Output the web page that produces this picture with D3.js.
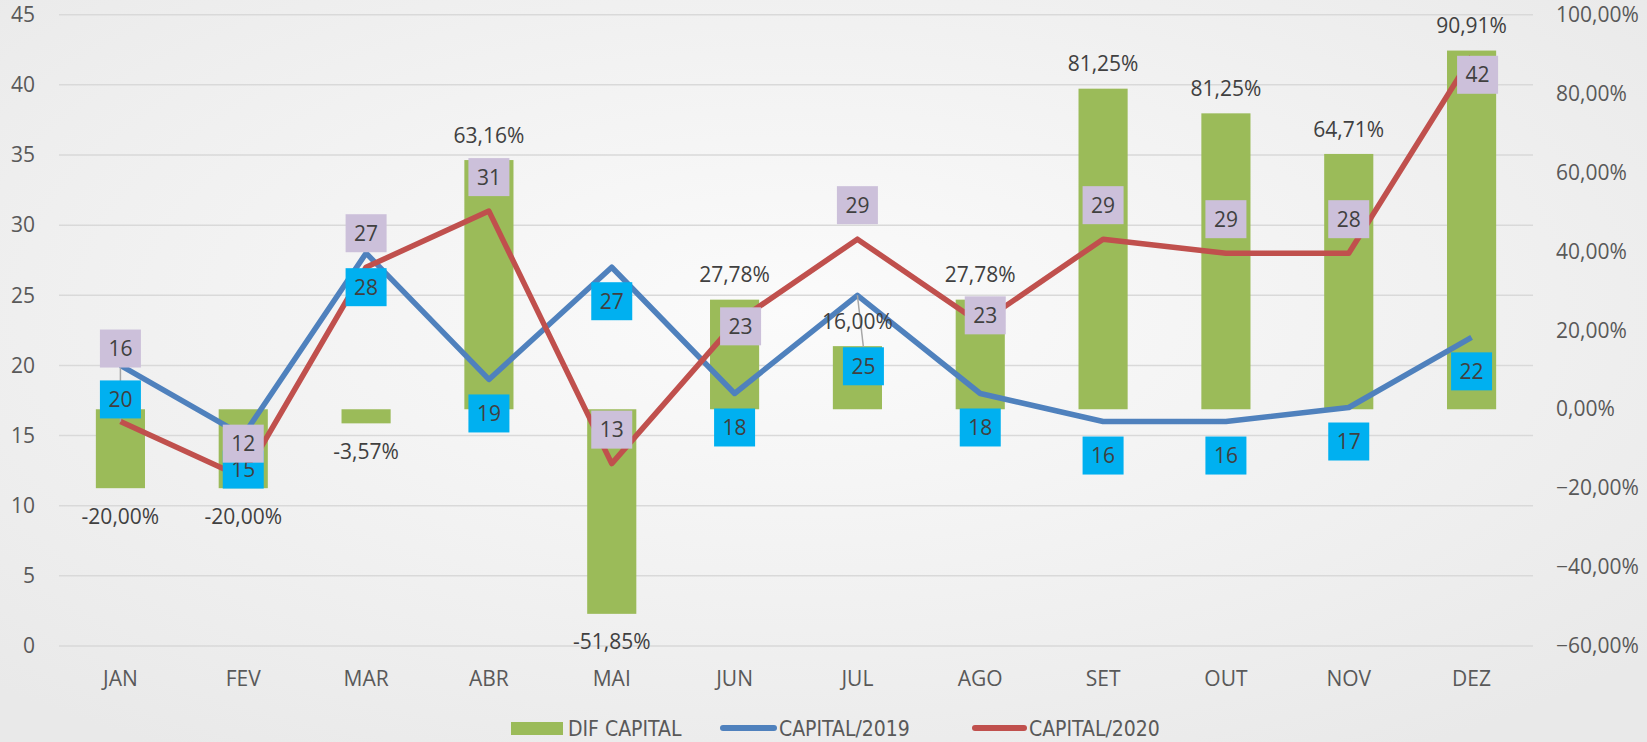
<!DOCTYPE html>
<html>
<head>
<meta charset="utf-8">
<script src="https://cdn.jsdelivr.net/npm/d3@7"></script>
<style>
  body { margin: 0; background: #ededed; }
  text { font-family: "Open Sans", sans-serif; }
</style>
</head>
<body>
<svg id="chart" width="1647" height="742"></svg>
<script>
// data
var months = ['JAN','FEV','MAR','ABR','MAI','JUN','JUL','AGO','SET','OUT','NOV','DEZ'];
var capital2019 = [20,15,28,19,27,18,25,18,16,16,17,22];
var capital2020 = [16,12,27,31,13,23,29,23,29,28,28,42];
var labels2019 = ['20','15','28','19','27','18','25','18','16','16','17','22'];
var labels2020 = ['16','12','27','31','13','23','29','23','29','29','28','42'];
var difCapital = [-20,-20,-3.57,63.16,-51.85,27.78,16,27.78,81.25,75,64.71,90.91];
var difLabels = ['-20,00%','-20,00%','-3,57%','63,16%','-51,85%','27,78%','16,00%','27,78%','81,25%','81,25%','64,71%','90,91%'];
var leftTicks = [0,5,10,15,20,25,30,35,40,45];
var rightTicks = [-60,-40,-20,0,20,40,60,80,100];

var svg = d3.select('#chart'),
    width = +svg.attr('width'),
    height = +svg.attr('height');

var plot = {left: 59, right: 1533, top: 14.7, bottom: 646};

// label nudges (px) for the hand-placed data labels
var nudge2020 = {JAN: [0, -39], JUN: [6, 37], AGO: [5, 26], DEZ: [6, 52]};
var nudge2019 = {JUL: [6, 37]};
var leaders2020 = ['JAN'], leaders2019 = ['JUL'];

// background
var defs = svg.append('defs');
var grad = defs.append('radialGradient').attr('id', 'bg')
    .attr('cx', '48%').attr('cy', '42%').attr('r', '70%');
grad.append('stop').attr('offset', '0%').attr('stop-color', '#fbfbfb');
grad.append('stop').attr('offset', '100%').attr('stop-color', '#e9e9e9');
svg.append('rect').attr('width', width).attr('height', height).attr('fill', 'url(#bg)');

var x = d3.scaleBand().domain(months).range([plot.left, plot.right]).paddingInner(0).paddingOuter(0);
var yL = d3.scaleLinear().domain([0, 45]).range([plot.bottom, plot.top]);
var yR = d3.scaleLinear().domain([-60, 100]).range([plot.bottom, plot.top]);
var cx = function(m) { return x(m) + x.bandwidth() / 2; };

// gridlines
svg.append('g').selectAll('line').data(leftTicks).enter().append('line')
    .attr('x1', plot.left).attr('x2', plot.right)
    .attr('y1', d => yL(d)).attr('y2', d => yL(d))
    .attr('stroke', '#d9d9d9').attr('stroke-width', 1.5);

// axes
var axisLeft = svg.append('g').attr('transform', 'translate(' + (plot.left - 24) + ',0)')
    .call(d3.axisLeft(yL).tickValues(leftTicks).tickSize(0).tickPadding(0));
var axisRight = svg.append('g').attr('transform', 'translate(' + (plot.right + 23) + ',0)')
    .call(d3.axisRight(yR).tickValues(rightTicks).tickSize(0).tickPadding(0)
      .tickFormat(d => d3.format('.2f')(d).replace('.', ',') + '%'));
var axisBottom = svg.append('g').attr('transform', 'translate(0,' + (plot.bottom + 33) + ')')
    .call(d3.axisBottom(x).tickSize(0).tickPadding(0));
[axisLeft, axisRight, axisBottom].forEach(function(a) {
  a.select('.domain').remove();
  a.selectAll('text').attr('fill', '#595959').style('font-size', '21px')
    .style('font-family', '"Open Sans", sans-serif');
});
axisBottom.selectAll('text').attr('dy', '0.35em');

// bars (secondary axis)
var barW = x.bandwidth() * 0.4;
svg.append('g').selectAll('rect').data(difCapital).enter().append('rect')
    .attr('x', (d, i) => cx(months[i]) - barW / 2)
    .attr('width', barW)
    .attr('y', d => yR(Math.max(0, d)))
    .attr('height', d => Math.abs(yR(d) - yR(0)))
    .attr('fill', '#9bbb59');

// lines
var line = d3.line().x((d, i) => cx(months[i])).y(d => yL(d));
svg.append('path').datum(capital2019).attr('d', line)
    .attr('fill', 'none').attr('stroke', '#4f81bd').attr('stroke-width', 5.5).attr('stroke-linejoin', 'round');
svg.append('path').datum(capital2020).attr('d', line)
    .attr('fill', 'none').attr('stroke', '#c0504d').attr('stroke-width', 5.5).attr('stroke-linejoin', 'round');

// label positions
function labelPos(values, i, dir, nudge) {
  var m = months[i], n = nudge[m] || [0, 0];
  return [cx(m) + n[0], yL(values[i]) + dir * 34 + n[1]];
}
var boxW = 41, boxH = 38;

// leader lines
function leader(values, names, dir, nudge) {
  names.forEach(function(m) {
    var i = months.indexOf(m), p = labelPos(values, i, dir, nudge);
    svg.append('line')
      .attr('x1', cx(m)).attr('y1', yL(values[i]))
      .attr('x2', p[0]).attr('y2', p[1] - Math.sign(p[1] - yL(values[i])) * boxH / 2)
      .attr('stroke', '#a6a6a6').attr('stroke-width', 1.5);
  });
}
leader(capital2020, leaders2020, -1, nudge2020);
leader(capital2019, leaders2019, 1, nudge2019);

function boxLabels(values, texts, dir, nudge, fill) {
  var g = svg.append('g').selectAll('g').data(values).enter().append('g')
      .attr('transform', (d, i) => 'translate(' + labelPos(values, i, dir, nudge) + ')');
  g.append('rect').attr('x', -boxW / 2).attr('y', -boxH / 2)
      .attr('width', boxW).attr('height', boxH).attr('fill', fill);
  g.append('text').attr('text-anchor', 'middle').attr('dy', '0.36em')
      .style('font-size', '21px').attr('fill', '#404040')
      .text((d, i) => texts[i]);
}
boxLabels(capital2019, labels2019, 1, nudge2019, '#00b0f0');
boxLabels(capital2020, labels2020, -1, nudge2020, '#ccc0da');

// percentage labels on the bars
svg.append('g').selectAll('text').data(difCapital).enter().append('text')
    .attr('x', (d, i) => cx(months[i]))
    .attr('y', d => d >= 0 ? yR(d) - 25 : yR(d) + 28)
    .attr('text-anchor', 'middle').attr('dy', '0.36em')
    .style('font-size', '21px').attr('fill', '#404040')
    .text((d, i) => difLabels[i]);

// legend
var legend = svg.append('g').attr('transform', 'translate(0,728)');
legend.append('rect').attr('x', 511).attr('y', -6).attr('width', 52).attr('height', 13).attr('fill', '#9bbb59');
legend.append('line').attr('x1', 723).attr('x2', 774).attr('stroke', '#4f81bd')
    .attr('stroke-width', 6).attr('stroke-linecap', 'round');
legend.append('line').attr('x1', 975).attr('x2', 1024).attr('stroke', '#c0504d')
    .attr('stroke-width', 6).attr('stroke-linecap', 'round');
[['DIF CAPITAL', 568], ['CAPITAL/2019', 779], ['CAPITAL/2020', 1029]].forEach(function(t) {
  legend.append('text').attr('x', t[1]).attr('dy', '0.36em')
    .style('font-family', '"DejaVu Sans Condensed", "DejaVu Sans", sans-serif')
    .style('font-stretch', 'condensed')
    .style('font-size', '21px').attr('fill', '#595959').text(t[0]);
});
</script>
</body>
</html>
